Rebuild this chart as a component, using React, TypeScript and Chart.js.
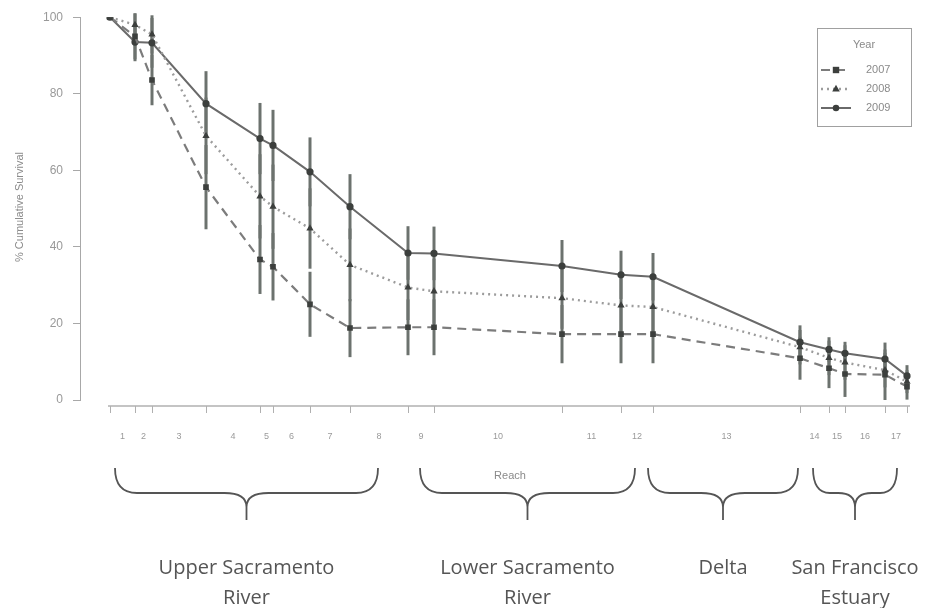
import React, { useEffect, useRef } from "react";
import { Chart, registerables } from "chart.js";

Chart.register(...registerables);

// ---- data ----
// relative distance of each detection site along the migration route (x axis units)
const siteDist = [0, 25, 42, 96, 150, 163, 200, 240, 298, 324, 452, 511, 543, 690, 719, 735, 775, 797];
const reachLabels = ["1", "2", "3", "4", "5", "6", "7", "8", "9", "10", "11", "12", "13", "14", "15", "16", "17"];
const years = ["2007", "2008", "2009"];

const surv2007 = [100, 95, 83.6, 55.6, 36.7, 34.8, 25, 18.8, 19, 19, 17.2, 17.2, 17.2, 10.9, 8.3, 6.8, 6.6, 3.5];
const err2007 = [0, 6, 6.6, 11, 9, 8.8, 8.5, 7.6, 7.3, 7.3, 7.6, 7.6, 7.6, 5.6, 5.2, 6, 6.6, 3.4];
const surv2008 = [100, 98, 95.5, 69, 53.2, 50.5, 44.8, 35.3, 29.4, 28.4, 26.6, 24.7, 24.3, 13.8, 11, 9.8, 7.8, 4.8];
const err2008 = [0, 3, 5, 10, 11, 11, 10.5, 9.5, 8.5, 8.5, 8, 7.5, 7.5, 4.5, 4.5, 4.5, 4.5, 3];
const surv2009 = [100, 93.5, 93.3, 77.4, 68.3, 66.5, 59.6, 50.5, 38.4, 38.3, 35, 32.7, 32.2, 15.1, 13.2, 12.2, 10.7, 6.3];
const err2009 = [0, 5, 6.5, 8.5, 9.3, 9.3, 9, 8.5, 7, 7, 6.8, 6.3, 6.2, 4.4, 3.2, 3, 4.3, 2.8];

const yTicks = [0, 20, 40, 60, 80, 100];
const yTitle = "% Cumulative Survival";
const xTitle = "Reach";

const regionNames = [["Upper Sacramento", "River"], ["Lower Sacramento", "River"], ["Delta"], ["San Francisco", "Estuary"]];
const regionStart = [5, 310, 538, 703];
const regionEnd = [268, 525, 688, 787];

// ---- styles ----
const lineColors = ["#7c7c7c", "#9c9c9c", "#6a6a6a"];
const lineDashes = [[9, 6], [2, 4], []];
const lineWidths = [2.2, 2.4, 2];
const pointStyles = ["rect", "triangle", "circle"];
const pointRadii = [4, 4.2, 3.6];
const pointColor = "#3c3f3d";
const tickGray = "#999";

const survList = [surv2007, surv2008, surv2009];
const errList = [err2007, err2008, err2009];

const decorPlugin = {
  id: "decor",
  beforeDatasetsDraw(chart: any) {
    const { ctx, scales } = chart;
    const x = scales.x;
    const y = scales.y;
    ctx.save();
    ctx.strokeStyle = "#6c726e";
    ctx.lineWidth = 3;
    ctx.lineCap = "butt";
    survList.forEach((vals, s) => {
      vals.forEach((v, i) => {
        const e = errList[s][i];
        if (e <= 0) return;
        const px = x.getPixelForValue(siteDist[i]);
        ctx.beginPath();
        ctx.moveTo(px, y.getPixelForValue(v + e));
        ctx.lineTo(px, y.getPixelForValue(Math.max(0, v - e)));
        ctx.stroke();
      });
    });
    ctx.restore();
  },
  afterDraw(chart: any) {
    const { ctx, scales } = chart;
    const x = scales.x;
    const y = scales.y;
    ctx.save();

    // x axis (detached, R style)
    const axY = y.getPixelForValue(0) + 6;
    ctx.strokeStyle = "#b0b0b0";
    ctx.lineWidth = 1.5;
    ctx.beginPath();
    ctx.moveTo(x.getPixelForValue(siteDist[0]) - 2, axY);
    ctx.lineTo(x.getPixelForValue(siteDist[siteDist.length - 1]) + 3, axY);
    ctx.stroke();
    ctx.lineWidth = 1;
    siteDist.forEach((d) => {
      const px = Math.round(x.getPixelForValue(d)) + 0.5;
      ctx.beginPath();
      ctx.moveTo(px, axY);
      ctx.lineTo(px, axY + 7);
      ctx.stroke();
    });

    // reach numbers
    ctx.fillStyle = "#9a9a9a";
    ctx.font = "9px 'Liberation Sans', Arial, sans-serif";
    ctx.textAlign = "center";
    ctx.textBaseline = "middle";
    reachLabels.forEach((lab, i) => {
      const mid = (siteDist[i] + siteDist[i + 1]) / 2;
      ctx.fillText(lab, x.getPixelForValue(mid), 437);
    });

    // x title
    ctx.fillStyle = "#8a8a8a";
    ctx.font = "11px 'Liberation Sans', Arial, sans-serif";
    ctx.fillText(xTitle, 510, 476);

    // y title
    ctx.save();
    ctx.translate(20, 207);
    ctx.rotate(-Math.PI / 2);
    ctx.fillStyle = "#8a8a8a";
    ctx.font = "11px 'Liberation Sans', Arial, sans-serif";
    ctx.fillText(yTitle, 0, 0);
    ctx.restore();

    // braces + region labels
    const yTop = 468;
    const yMid = 493;
    const yTip = 520;
    ctx.strokeStyle = "#555";
    ctx.lineWidth = 1.8;
    regionNames.forEach((lines, r) => {
      const x1 = x.getPixelForValue(regionStart[r]);
      const x2 = x.getPixelForValue(regionEnd[r]);
      const xc = (x1 + x2) / 2;
      const rr = Math.min(22, (xc - x1) / 2.5);
      ctx.beginPath();
      ctx.moveTo(x1, yTop);
      ctx.quadraticCurveTo(x1, yMid, x1 + rr, yMid);
      ctx.lineTo(xc - rr, yMid);
      ctx.quadraticCurveTo(xc, yMid, xc, yMid + 14);
      ctx.lineTo(xc, yTip);
      ctx.moveTo(x2, yTop);
      ctx.quadraticCurveTo(x2, yMid, x2 - rr, yMid);
      ctx.lineTo(xc + rr, yMid);
      ctx.quadraticCurveTo(xc, yMid, xc, yMid + 14);
      ctx.stroke();

      ctx.fillStyle = "#555";
      ctx.font = "20px 'Open Sans', sans-serif";
      ctx.textAlign = "center";
      ctx.textBaseline = "middle";
      lines.forEach((t, k) => {
        ctx.fillText(t, xc, 568 + k * 30);
      });
    });

    // legend
    const bx = 817.5;
    const by = 28.5;
    ctx.strokeStyle = "#a0a0a0";
    ctx.lineWidth = 1;
    ctx.strokeRect(bx, by, 94, 98);
    ctx.fillStyle = "#8a8a8a";
    ctx.font = "11px 'Liberation Sans', Arial, sans-serif";
    ctx.textAlign = "center";
    ctx.fillText("Year", 864, 45);
    years.forEach((yr, s) => {
      const ly = 70 + s * 19;
      ctx.strokeStyle = lineColors[s];
      ctx.lineWidth = lineWidths[s];
      ctx.setLineDash(lineDashes[s]);
      ctx.beginPath();
      ctx.moveTo(821, ly);
      ctx.lineTo(851, ly);
      ctx.stroke();
      ctx.setLineDash([]);
      ctx.fillStyle = pointColor;
      const mx = 836;
      const rad = pointRadii[s];
      ctx.beginPath();
      if (pointStyles[s] === "rect") {
        ctx.rect(mx - rad * 0.8, ly - rad * 0.8, rad * 1.6, rad * 1.6);
      } else if (pointStyles[s] === "triangle") {
        ctx.moveTo(mx, ly - rad);
        ctx.lineTo(mx + rad * 0.9, ly + rad * 0.6);
        ctx.lineTo(mx - rad * 0.9, ly + rad * 0.6);
        ctx.closePath();
      } else {
        ctx.arc(mx, ly, rad * 0.9, 0, Math.PI * 2);
      }
      ctx.fill();
      ctx.fillStyle = "#8a8a8a";
      ctx.textAlign = "left";
      ctx.fillText(yr, 866, ly);
    });

    ctx.restore();
  },
};

export default function App() {
  const canvasRef = useRef<HTMLCanvasElement | null>(null);

  useEffect(() => {
    if (!canvasRef.current) return;
    const datasets = years.map((yr, s) => ({
      label: yr,
      data: siteDist.map((d, i) => ({ x: d, y: survList[s][i] })),
      borderColor: lineColors[s],
      borderWidth: lineWidths[s],
      borderDash: lineDashes[s],
      backgroundColor: pointColor,
      pointBackgroundColor: pointColor,
      pointBorderColor: pointColor,
      pointBorderWidth: 0,
      pointStyle: pointStyles[s] as any,
      pointRadius: pointRadii[s],
      showLine: true,
      tension: 0,
      fill: false,
    }));

    const chart = new Chart(canvasRef.current, {
      type: "line",
      data: { datasets },
      options: {
        animation: false,
        responsive: false,
        layout: { padding: { top: 15, right: 12, bottom: 208, left: 0 } },
        plugins: {
          legend: { display: false },
          tooltip: { enabled: false },
        },
        scales: {
          x: {
            type: "linear",
            min: -30,
            max: 805,
            display: false,
          },
          y: {
            type: "linear",
            min: 0,
            max: 100,
            afterFit: (scale: any) => {
              scale.width = 80;
            },
            afterBuildTicks: (scale: any) => {
              scale.ticks = yTicks.map((v) => ({ value: v }));
            },
            border: { display: true, color: "#a8a8a8", width: 1 },
            grid: {
              drawOnChartArea: false,
              drawTicks: true,
              tickLength: 7,
              color: "#a8a8a8",
            },
            ticks: {
              color: tickGray,
              padding: 10,
              font: { family: "'Liberation Sans', Arial, sans-serif", size: 12 },
            },
          },
        },
      },
      plugins: [decorPlugin],
    });
    return () => chart.destroy();
  }, []);

  return (
    <div style={{ position: "absolute", left: 0, top: 0, width: 927, height: 608, background: "#fff" }}>
      <canvas ref={canvasRef} width={927} height={608} style={{ display: "block" }} />
    </div>
  );
}
